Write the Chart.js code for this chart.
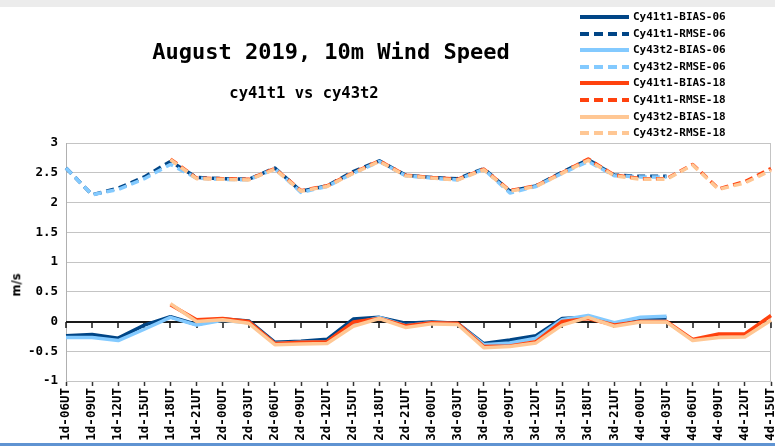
<!DOCTYPE html>
<html><head><meta charset="utf-8">
<script src="https://cdn.jsdelivr.net/npm/chart.js@4.4.1/dist/chart.umd.min.js"></script>
<style>
html,body{margin:0;padding:0;background:#fff;}
#wrap{position:relative;width:775px;height:446px;overflow:hidden;background:#fff;font-family:"DejaVu Sans Mono",monospace;font-weight:bold;color:#000;}
#topstrip{position:absolute;left:0;top:0;width:775px;height:7px;background:#ececec;}
#botline{position:absolute;left:0;top:443px;width:775px;height:3px;background:#5f93d2;}
#c{position:absolute;left:0;top:0;}
.t{position:absolute;white-space:nowrap;line-height:1;}
#title{left:331px;top:41px;transform:translateX(-50%);font-size:22px;}
#subtitle{left:304px;top:86px;transform:translateX(-50%);font-size:15.5px;}
#ylab{left:17px;top:285px;transform:translate(-50%,-50%) rotate(-90deg);font-size:11.5px;font-family:"DejaVu Sans",sans-serif;}
#legend{position:absolute;left:578px;top:9px;}
.row{position:absolute;left:0;height:16px;white-space:nowrap;}
.row svg{position:absolute;left:0;top:5px;}
.row span{position:absolute;left:55px;top:2px;font-size:11px;line-height:1;}
</style>
</head>
<body>
<div id="wrap">
  <div id="topstrip"></div>
  <canvas id="c" width="775" height="446"></canvas>
  <div class="t" id="title">August 2019, 10m Wind Speed</div>
  <div class="t" id="subtitle">cy41t1 vs cy43t2</div>
  <div class="t" id="ylab">m/s</div>
  <div id="legend"></div>
  <div id="botline"></div>
</div>
<script>
const categories = ["1d-06UT","1d-09UT","1d-12UT","1d-15UT","1d-18UT","1d-21UT",
  "2d-00UT","2d-03UT","2d-06UT","2d-09UT","2d-12UT","2d-15UT","2d-18UT","2d-21UT",
  "3d-00UT","3d-03UT","3d-06UT","3d-09UT","3d-12UT","3d-15UT","3d-18UT","3d-21UT",
  "4d-00UT","4d-03UT","4d-06UT","4d-09UT","4d-12UT","4d-15UT"];

// 06UT runs: 1d-06UT .. 4d-03UT
const cy41t1Bias06 = [-0.24,-0.22,-0.28,-0.06,0.08,-0.05,0.04,0.01,-0.35,-0.33,-0.30,0.04,0.07,-0.03,-0.01,-0.03,-0.37,-0.31,-0.24,0.05,0.07,-0.04,0.06,0.06];
const cy41t1Rmse06 = [2.58,2.13,2.24,2.43,2.69,2.42,2.40,2.39,2.58,2.19,2.28,2.52,2.70,2.46,2.42,2.40,2.57,2.19,2.28,2.51,2.72,2.46,2.44,2.44];
const cy43t2Bias06 = [-0.27,-0.27,-0.32,-0.13,0.07,-0.06,0.02,-0.02,-0.37,-0.35,-0.34,-0.04,0.07,-0.07,-0.02,-0.04,-0.39,-0.36,-0.28,0.03,0.10,-0.02,0.07,0.09];
const cy43t2Rmse06 = [2.58,2.13,2.22,2.40,2.64,2.41,2.39,2.38,2.57,2.17,2.27,2.49,2.69,2.45,2.41,2.38,2.56,2.16,2.27,2.49,2.69,2.45,2.43,2.43];
// 18UT runs: 1d-18UT .. 4d-15UT
const cy41t1Bias18 = [0.28,0.03,0.05,0.00,-0.37,-0.35,-0.34,-0.01,0.05,-0.07,-0.02,-0.03,-0.42,-0.41,-0.34,0.00,0.05,-0.06,0.00,0.00,-0.30,-0.21,-0.21,0.10];
const cy41t1Rmse18 = [2.73,2.41,2.40,2.39,2.57,2.20,2.28,2.50,2.70,2.46,2.42,2.39,2.56,2.20,2.28,2.50,2.73,2.46,2.40,2.40,2.64,2.23,2.35,2.57];
const cy43t2Bias18 = [0.30,0.00,0.03,-0.03,-0.39,-0.38,-0.37,-0.08,0.05,-0.10,-0.04,-0.05,-0.44,-0.42,-0.36,-0.06,0.07,-0.08,-0.01,-0.01,-0.32,-0.27,-0.26,0.02];
const cy43t2Rmse18 = [2.72,2.40,2.39,2.38,2.56,2.19,2.27,2.49,2.69,2.45,2.41,2.38,2.55,2.19,2.27,2.49,2.71,2.45,2.39,2.39,2.63,2.22,2.33,2.54];

const yTicks = [-1,-0.5,0,0.5,1,1.5,2,2.5,3];
const yTickLabels = ["-1","-0.5","0","0.5","1","1.5","2","2.5","3"];
const lead18 = [null,null,null,null];

const seriesDefs = [
  {label:"Cy41t1-BIAS-06", data:cy41t1Bias06, color:"#004586", dash:[]},
  {label:"Cy41t1-RMSE-06", data:cy41t1Rmse06, color:"#004586", dash:[8,5]},
  {label:"Cy43t2-BIAS-06", data:cy43t2Bias06, color:"#83caff", dash:[]},
  {label:"Cy43t2-RMSE-06", data:cy43t2Rmse06, color:"#83caff", dash:[8,5]},
  {label:"Cy41t1-BIAS-18", data:lead18.concat(cy41t1Bias18), color:"#ff420e", dash:[]},
  {label:"Cy41t1-RMSE-18", data:lead18.concat(cy41t1Rmse18), color:"#ff420e", dash:[8,5]},
  {label:"Cy43t2-BIAS-18", data:lead18.concat(cy43t2Bias18), color:"#ffc794", dash:[]},
  {label:"Cy43t2-RMSE-18", data:lead18.concat(cy43t2Rmse18), color:"#ffc794", dash:[8,5]}
];

const datasets = seriesDefs.map((s,k)=>({
  label:s.label, data:s.data, borderColor:s.color, backgroundColor:s.color,
  borderDash:s.dash, borderWidth:3.5, pointRadius:0, pointHoverRadius:0,
  tension:0, fill:false, order:seriesDefs.length-k, borderCapStyle:'butt', borderJoinStyle:'round'
}));

const FONT = "'DejaVu Sans Mono', monospace";

const zeroAxis = {
  id:'zeroAxis',
  beforeDatasetsDraw(chart){
    const {ctx, chartArea:a, scales:{x,y}} = chart;
    const y0 = Math.round(y.getPixelForValue(0));
    ctx.save();
    ctx.strokeStyle = '#c4c4c4'; ctx.lineWidth = 1;
    ctx.beginPath(); ctx.moveTo(a.right-0.5,a.top); ctx.lineTo(a.right-0.5,a.bottom); ctx.stroke();
    ctx.strokeStyle = '#1a1a1a'; ctx.lineWidth = 2;
    ctx.beginPath(); ctx.moveTo(a.left,y0); ctx.lineTo(a.right,y0); ctx.stroke();
    ctx.lineWidth = 1.5;
    ctx.beginPath();
    categories.forEach((c,i)=>{
      const px = Math.round(x.getPixelForValue(i));
      ctx.moveTo(px,y0); ctx.lineTo(px,y0+6);
    });
    ctx.stroke();
    ctx.restore();
  }
};

const chart = new Chart(document.getElementById('c'), {
  type:'line',
  data:{labels:categories, datasets},
  options:{
    responsive:false, animation:false, devicePixelRatio:1,
    layout:{padding:{top:143,right:4,bottom:0,left:0}},
    plugins:{legend:{display:false}, tooltip:{enabled:false}, title:{display:false}},
    scales:{
      x:{
        offset:false,
        grid:{display:true, drawOnChartArea:false, drawTicks:true, tickLength:5, tickColor:'#333', tickWidth:1.5},
        border:{display:true, color:'#c4c4c4'},
        ticks:{autoSkip:false, maxRotation:90, minRotation:90, padding:2, color:'#000',
               font:{family:FONT, size:12.5, weight:'bold'}},
        afterFit(s){ s.height = 65; s.paddingLeft = 0; s.paddingRight = 0; }
      },
      y:{
        min:-1, max:3,
        afterBuildTicks(s){ s.ticks = yTicks.map(v=>({value:v})); },
        grid:{drawTicks:false, color:(c)=> (c.tick && c.tick.value===0) ? 'rgba(0,0,0,0)' : '#c4c4c4', lineWidth:1},
        border:{display:true, color:'#b0b0b0'},
        ticks:{padding:8, color:'#000', font:{family:FONT, size:12.5, weight:'bold'},
               callback:(v,i)=> yTickLabels[yTicks.indexOf(v)] ?? String(v)},
        afterFit(s){ s.width = 66; s.paddingTop = 0; s.paddingBottom = 0; }
      }
    }
  },
  plugins:[zeroAxis]
});

// legend built from the chart's datasets
const leg = document.getElementById('legend');
chart.data.datasets.forEach((d,i)=>{
  const row = document.createElement('div');
  row.className = 'row';
  row.style.top = (i*16.6) + 'px';
  const dash = (d.borderDash && d.borderDash.length) ? `stroke-dasharray="9,5"` : '';
  row.innerHTML = `<svg width="52" height="6"><line x1="2" y1="3" x2="51" y2="3" stroke="${d.borderColor}" stroke-width="4" ${dash}/></svg><span>${d.label}</span>`;
  leg.appendChild(row);
});
</script>
</body></html>
